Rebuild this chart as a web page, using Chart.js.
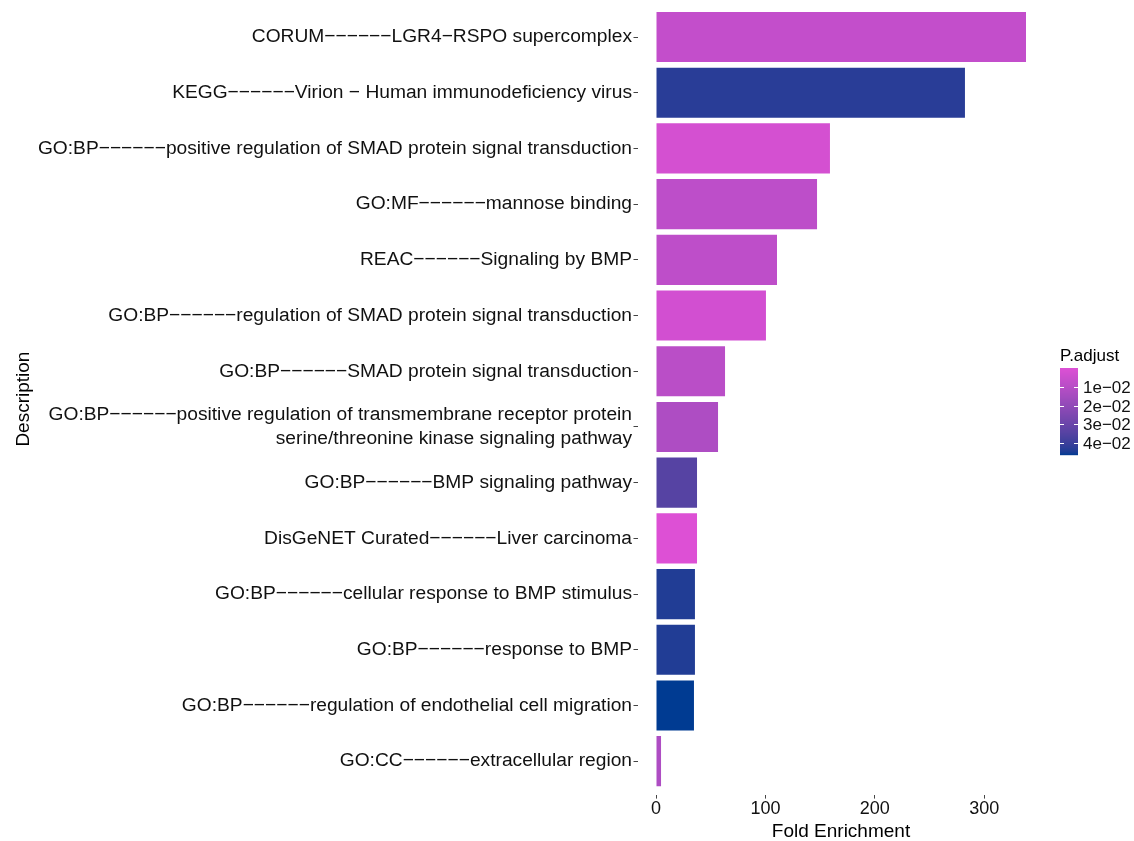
<!DOCTYPE html>
<html>
<head>
<meta charset="utf-8">
<script src="https://cdn.jsdelivr.net/npm/chart.js@4.4.0/dist/chart.umd.min.js"></script>
<style>
  html, body { margin: 0; padding: 0; background: #fff; }
  #wrap { width: 1134px; height: 841px; position: relative; }
</style>
</head>
<body>
<div id="wrap"><canvas id="chart" width="1134" height="841"></canvas></div>
<script>
// Data
const categories = [
    'CORUM−−−−−−LGR4−RSPO supercomplex',
    'KEGG−−−−−−Virion − Human immunodeficiency virus',
    'GO:BP−−−−−−positive regulation of SMAD protein signal transduction',
    'GO:MF−−−−−−mannose binding',
    'REAC−−−−−−Signaling by BMP',
    'GO:BP−−−−−−regulation of SMAD protein signal transduction',
    'GO:BP−−−−−−SMAD protein signal transduction',
    ['GO:BP−−−−−−positive regulation of transmembrane receptor protein', 'serine/threonine kinase signaling pathway'],
    'GO:BP−−−−−−BMP signaling pathway',
    'DisGeNET Curated−−−−−−Liver carcinoma',
    'GO:BP−−−−−−cellular response to BMP stimulus',
    'GO:BP−−−−−−response to BMP',
    'GO:BP−−−−−−regulation of endothelial cell migration',
    'GO:CC−−−−−−extracellular region'
];
const foldEnrichment = [338.2, 282.4, 159, 147.2, 110.6, 100.5, 63.1, 56.7, 37.5, 37.5, 35.6, 35.6, 34.7, 4.6];
const pAdjust = [0.0072, 0.0435, 0.0025, 0.0086, 0.0085, 0.0030, 0.0095, 0.0127, 0.0350, 0.0001, 0.0445, 0.0445, 0.0470, 0.0127];
const xTicks = [0, 100, 200, 300];
const legendTicks = [0.01, 0.02, 0.03, 0.04];
const legendLabels = ['1e−02', '2e−02', '3e−02', '4e−02'];

const LOW_COLOR = '#DD50D5';
const HIGH_COLOR = '#003B92';
const FONT = "'Liberation Sans', Arial, sans-serif";

// Lab interpolation like ggplot's gradient scale
function hexToRgb(hex) {
    const n = parseInt(hex.slice(1), 16);
    return [(n >> 16) & 255, (n >> 8) & 255, n & 255];
}
function rgbToLab(rgb) {
    const lin = rgb.map(c => {
        c /= 255;
        return c <= 0.04045 ? c / 12.92 : Math.pow((c + 0.055) / 1.055, 2.4);
    });
    let x = (lin[0] * 0.4124 + lin[1] * 0.3576 + lin[2] * 0.1805) / 0.95047;
    let y = (lin[0] * 0.2126 + lin[1] * 0.7152 + lin[2] * 0.0722);
    let z = (lin[0] * 0.0193 + lin[1] * 0.1192 + lin[2] * 0.9505) / 1.08883;
    const f = t => t > 0.008856 ? Math.cbrt(t) : 7.787 * t + 16 / 116;
    x = f(x); y = f(y); z = f(z);
    return [116 * y - 16, 500 * (x - y), 200 * (y - z)];
}
function labToRgb(lab) {
    let y = (lab[0] + 16) / 116;
    let x = lab[1] / 500 + y;
    let z = y - lab[2] / 200;
    const fi = t => t * t * t > 0.008856 ? t * t * t : (t - 16 / 116) / 7.787;
    x = fi(x) * 0.95047; y = fi(y); z = fi(z) * 1.08883;
    const lin = [
        x * 3.2406 + y * -1.5372 + z * -0.4986,
        x * -0.9689 + y * 1.8758 + z * 0.0415,
        x * 0.0557 + y * -0.2040 + z * 1.0570
    ];
    return lin.map(c => {
        c = c <= 0.0031308 ? 12.92 * c : 1.055 * Math.pow(c, 1 / 2.4) - 0.055;
        return Math.max(0, Math.min(255, Math.round(c * 255)));
    });
}
const lowLab = rgbToLab(hexToRgb(LOW_COLOR));
const highLab = rgbToLab(hexToRgb(HIGH_COLOR));
const pMin = Math.min(...pAdjust);
const pMax = Math.max(...pAdjust);

function pColor(p) {
    const t = (p - pMin) / (pMax - pMin);
    const lab = lowLab.map((v, i) => v + (highLab[i] - v) * t);
    const rgb = labToRgb(lab);
    return `rgb(${rgb[0]},${rgb[1]},${rgb[2]})`;
}

// Colour bar legend drawn next to the plot
const colorbarLegend = {
    id: 'colorbarLegend',
    afterDraw(chart) {
        const ctx = chart.ctx;
        const x = 1060, y = 368, w = 18, h = 87;
        ctx.save();
        ctx.fillStyle = '#000';
        ctx.font = '17px ' + FONT;
        ctx.textAlign = 'left';
        ctx.textBaseline = 'alphabetic';
        ctx.fillText('P.adjust', x, 361);
        for (let i = 0; i < h; i++) {
            const p = pMin + (i + 0.5) / h * (pMax - pMin);
            ctx.fillStyle = pColor(p);
            ctx.fillRect(x, y + i, w, 1.2);
        }
        ctx.strokeStyle = '#fff';
        ctx.lineWidth = 1;
        ctx.textBaseline = 'middle';
        legendTicks.forEach((v, i) => {
            const ty = Math.round(y + 1 + (v - pMin) / (pMax - pMin) * h) + 0.5;
            ctx.beginPath();
            ctx.moveTo(x, ty); ctx.lineTo(x + 4, ty);
            ctx.moveTo(x + w - 4, ty); ctx.lineTo(x + w, ty);
            ctx.stroke();
            ctx.fillStyle = '#111';
            ctx.fillText(legendLabels[i], x + w + 5, ty + 1);
        });
        ctx.restore();
    }
};

const maxFE = Math.max(...foldEnrichment);

new Chart(document.getElementById('chart').getContext('2d'), {
    type: 'bar',
    data: {
        labels: categories,
        datasets: [{
            data: foldEnrichment,
            backgroundColor: pAdjust.map(pColor),
            borderWidth: 0,
            barPercentage: 0.9,
            categoryPercentage: 1.0
        }]
    },
    options: {
        indexAxis: 'y',
        responsive: false,
        animation: false,
        devicePixelRatio: 1,
        layout: { padding: { left: 0, right: 89.5, top: 3.6, bottom: 0 } },
        plugins: {
            legend: { display: false },
            tooltip: { enabled: false }
        },
        scales: {
            x: {
                min: -0.05 * maxFE,
                max: 1.05 * maxFE,
                afterBuildTicks: scale => { scale.ticks = xTicks.map(v => ({ value: v })); },
                afterFit: scale => {
                    scale.height = 46.4;
                    scale.paddingLeft = 0;
                    scale.paddingRight = 0;
                },
                border: { display: false },
                grid: { drawOnChartArea: false, tickLength: 4, color: '#444', lineWidth: 1 },
                ticks: {
                    color: '#111',
                    font: { family: FONT, size: 18 },
                    padding: 0,
                    maxRotation: 0
                },
                title: {
                    display: true,
                    text: 'Fold Enrichment',
                    color: '#000',
                    font: { family: FONT, size: 19 },
                    padding: { top: 0, bottom: -2 }
                }
            },
            y: {
                afterFit: scale => {
                    scale.width = 637.5;
                    scale.paddingTop = 0;
                    scale.paddingBottom = 0;
                    // ggplot-style discrete expansion (0.6 of a band on each end)
                    scale._startValue = -0.6;
                    scale._valueRange = categories.length + 0.2;
                },
                border: { display: false },
                grid: { drawOnChartArea: false, offset: false, tickLength: 4, color: '#444', lineWidth: 1 },
                ticks: {
                    color: '#111',
                    font: { family: FONT, size: 19.2, lineHeight: 1.25 },
                    padding: 1.5,
                    autoSkip: false
                },
                title: {
                    display: true,
                    text: 'Description',
                    color: '#000',
                    font: { family: FONT, size: 19 },
                    padding: { top: 12, bottom: 0 }
                }
            }
        }
    },
    plugins: [colorbarLegend]
});
</script>
</body>
</html>
